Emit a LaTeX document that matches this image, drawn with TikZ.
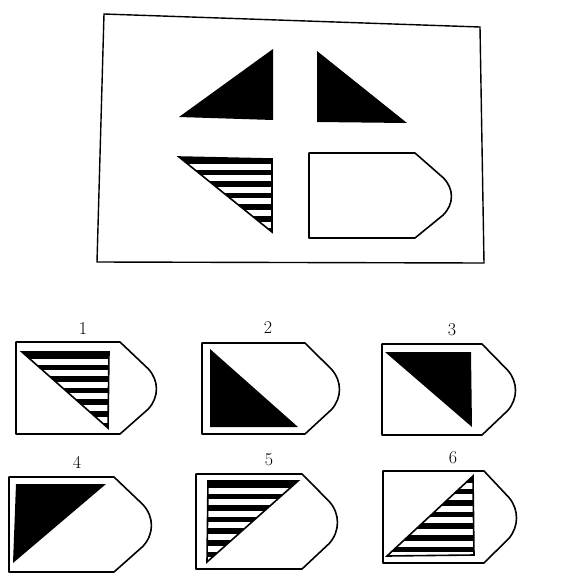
\documentclass[tikz,border=0pt]{standalone}
\usepackage{tikz}

% outline of a tag: left, corner, tip, top, bottom
\newcommand\tagbox[5]{%
  \draw[tagline] (#1,#4) -- (#2,#4)
    -- ({#2+0.76*(#3-#2)},{#4+0.29*(#5-#4)})
    .. controls ({#2+1.06*(#3-#2)},{#4+0.42*(#5-#4)}) and ({#2+1.06*(#3-#2)},{#4+0.6*(#5-#4)})
    .. ({#2+0.76*(#3-#2)},{#4+0.73*(#5-#4)})
    -- (#2,#5) -- (#1,#5) -- cycle;}
% striped triangle: three corners, top y
\newcommand\stripetri[4]{%
  \fill[black] #1 -- #2 -- #3 -- cycle;
  \begin{scope}
    \clip #1 -- #2 -- #3 -- cycle;
    \foreach \k in {0,...,6}
      \fill[white] (0,{#4+6.5+\k*11.6}) rectangle (562,{#4+12.5+\k*11.6});
  \end{scope}
  \draw[triline] #1 -- #2 -- #3 -- cycle;}

\begin{document}
\begin{tikzpicture}[x=1pt,y=-1pt,
    tagline/.style={line width=1.6pt, line join=round},
    triline/.style={line width=1.6pt, line join=miter},
    num/.style={font=\fontsize{18}{20}\selectfont, inner sep=0pt}]
  \useasboundingbox (0,0) rectangle (562,582);
  % question frame
  \draw[line width=1.4pt] (104,14) -- (480,27) -- (484,263) -- (97,262) -- cycle;
  \fill[black] (179,117) -- (273,49) -- (273,120) -- cycle;
  \fill[black] (317,51) -- (317,122) -- (407,123) -- cycle;
  \stripetri{(179,157)}{(272,159)}{(272,232)}{157}
  \tagbox{309}{415}{452}{153}{238}
  % answers
  \node[num] (lab1) at (83,329) {1};
  \node[num] (lab2) at (268,328) {2};
  \node[num] (lab3) at (452,330) {3};
  \node[num] (lab4) at (77,462) {4};
  \node[num] (lab5) at (269,460) {5};
  \node[num] (lab6) at (453,458) {6};
  \tagbox{16}{120}{157}{342}{434}
  \stripetri{(22,352)}{(109,352)}{(108,428)}{352}
  \tagbox{202}{305}{340}{343}{434}
  \fill[black] (210,349) -- (210,427) -- (298,427) -- cycle;
  \tagbox{382}{482}{516}{344}{435}
  \fill[black] (385,352) -- (471,352) -- (472,427) -- cycle;
  \tagbox{9}{114}{152}{477}{572}
  \fill[black] (16,484) -- (106,484) -- (13,563) -- cycle;
  \tagbox{196}{302}{338}{474}{569}
  \stripetri{(208,481)}{(298,481)}{(207,562)}{481}
  \tagbox{383}{484}{517}{471}{563}
  \stripetri{(473,476)}{(474,555)}{(387,556)}{476}
\end{tikzpicture}
\end{document}
